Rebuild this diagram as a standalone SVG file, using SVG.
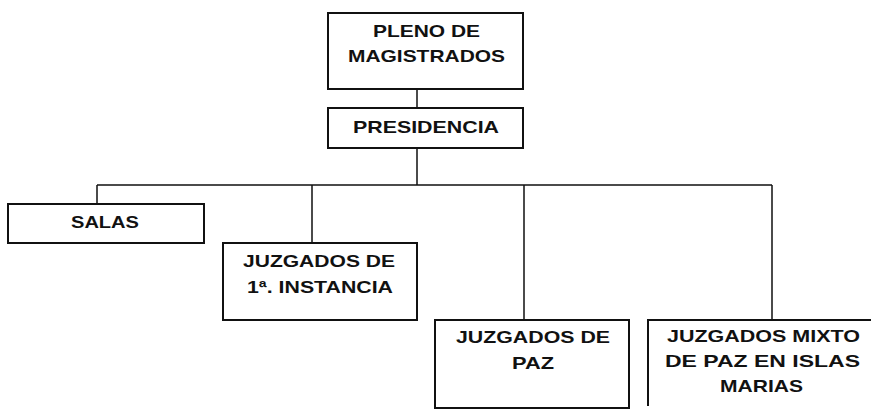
<svg xmlns="http://www.w3.org/2000/svg" width="871" height="414" viewBox="0 0 871 414">
<style>
.box{fill:#fff;stroke:#111;stroke-width:2}
.t{font-family:"Liberation Sans",Arial,sans-serif;font-weight:bold;font-size:17px;fill:#111;text-anchor:middle}
.c{fill:none;stroke:#111;stroke-width:1.5}
</style>
<rect width="871" height="414" fill="#fff"/>
<g id="connectors">
<path class="c" d="M417 89V108M417 148V185M97 185H772M97 185V204M312 185V243M524 185V320M772 185V320"/>
</g>
<g id="pleno">
<rect class="box" x="328" y="13" width="195" height="76"/>
<text class="t" x="426.5" y="37" textLength="107" lengthAdjust="spacingAndGlyphs">PLENO DE</text>
<text class="t" x="426.5" y="62" textLength="157" lengthAdjust="spacingAndGlyphs">MAGISTRADOS</text>
</g>
<g id="presidencia">
<rect class="box" x="328" y="108" width="195" height="40"/>
<text class="t" x="426" y="133" textLength="146" lengthAdjust="spacingAndGlyphs">PRESIDENCIA</text>
</g>
<g id="salas">
<rect class="box" x="8" y="204" width="196" height="39"/>
<text class="t" x="105" y="228" textLength="68" lengthAdjust="spacingAndGlyphs">SALAS</text>
</g>
<g id="juzgados-1a">
<rect class="box" x="223" y="243" width="194" height="77"/>
<text class="t" x="319" y="266.5" textLength="152" lengthAdjust="spacingAndGlyphs">JUZGADOS DE</text>
<text class="t" x="320" y="292.5" textLength="146" lengthAdjust="spacingAndGlyphs">1ª. INSTANCIA</text>
</g>
<g id="juzgados-paz">
<rect class="box" x="435" y="320" width="194" height="88"/>
<text class="t" x="533" y="343" textLength="154" lengthAdjust="spacingAndGlyphs">JUZGADOS DE</text>
<text class="t" x="533" y="369" textLength="42" lengthAdjust="spacingAndGlyphs">PAZ</text>
</g>
<g id="juzgados-mixto">
<path class="box" d="M880 320H648V406" fill="none"/>
<text class="t" x="763.5" y="341.5" textLength="193" lengthAdjust="spacingAndGlyphs">JUZGADOS MIXTO</text>
<text class="t" x="762.5" y="366.5" textLength="195" lengthAdjust="spacingAndGlyphs">DE PAZ EN ISLAS</text>
<text class="t" x="761.5" y="391.5" textLength="83" lengthAdjust="spacingAndGlyphs">MARIAS</text>
</g>
</svg>
